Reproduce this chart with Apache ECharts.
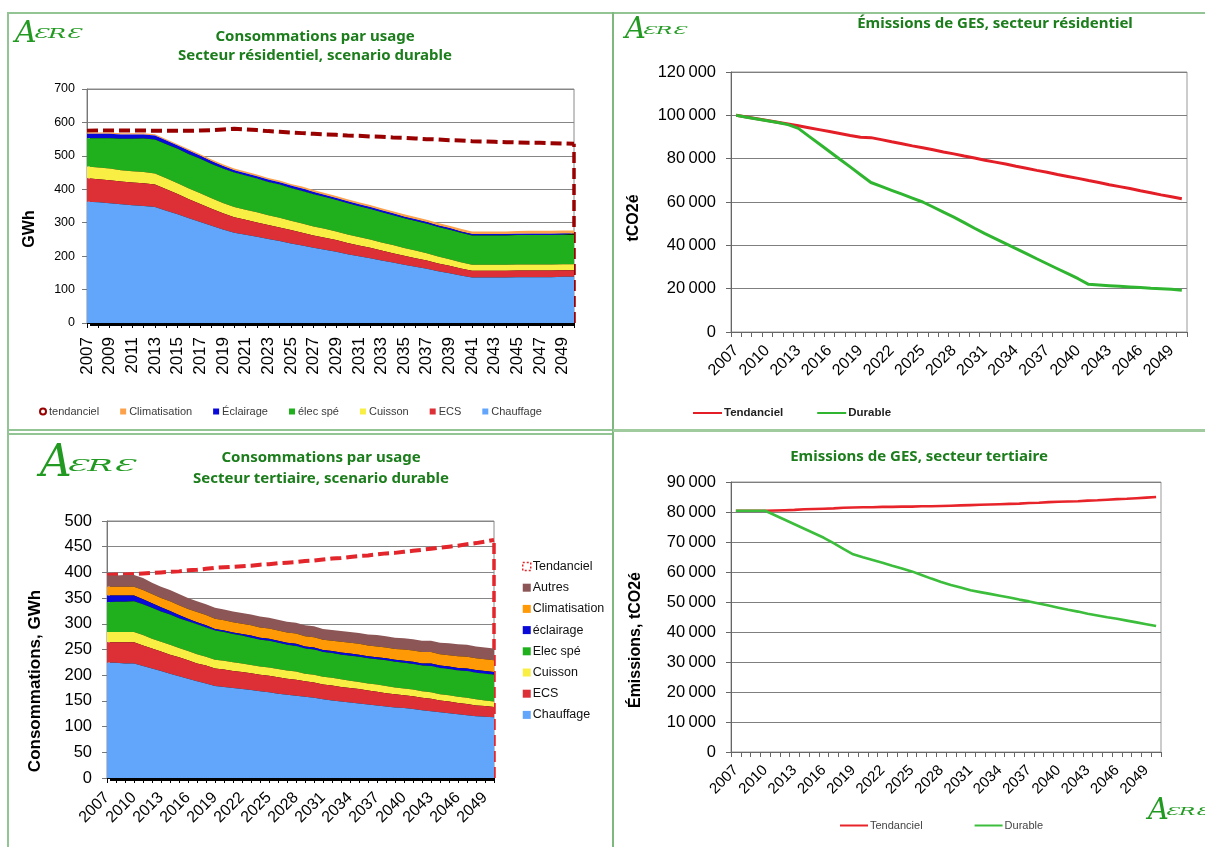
<!DOCTYPE html>
<html><head><meta charset="utf-8">
<script src="https://cdn.jsdelivr.net/npm/echarts@6/dist/echarts.min.js"></script>
<style>
html,body{margin:0;padding:0;background:#fff;}
#wrap{position:relative;width:1205px;height:847px;overflow:hidden;background:#fff;}
.p{position:absolute;}
.ln{position:absolute;background:#93c493;}
</style>
</head><body><div id="wrap">
<div id="p1" class="p" style="left:0;top:0;width:613px;height:431px"></div>
<div id="p2" class="p" style="left:613px;top:0;width:592px;height:431px"></div>
<div id="p3" class="p" style="left:0;top:431px;width:613px;height:416px"></div>
<div id="p4" class="p" style="left:613px;top:431px;width:592px;height:416px"></div>
<div class="ln" style="left:8px;top:12px;width:1197px;height:2px"></div>
<div class="ln" style="left:7px;top:12px;width:2px;height:835px"></div>
<div class="ln" style="left:612px;top:12px;width:2px;height:835px;background:#7fb87f"></div>
<div class="ln" style="left:613px;top:429px;width:592px;height:3px;background:#9fcb9f"></div>
<div class="ln" style="left:8px;top:429px;width:604px;height:1.5px"></div>
<div class="ln" style="left:8px;top:433px;width:604px;height:1.5px"></div>
</div>
<script>
// ---------- DATA ----------
const years = ['2007','2008','2009','2010','2011','2012','2013','2014','2015','2016','2017','2018','2019','2020','2021','2022','2023','2024','2025','2026','2027','2028','2029','2030','2031','2032','2033','2034','2035','2036','2037','2038','2039','2040','2041','2042','2043','2044','2045','2046','2047','2048','2049','2050'];

// Residential consumption (GWh)
const resChauffage = [363,361,358,355,352,350,347,336,325,313,302,291,280,270,264,258,251,245,238,232,225,219,213,206,200,194,187,181,174,168,162,155,149,142,136,136,136,136,137,137,137,137,138,138];
const resECS = [70,69,69,68,68,68,67,64,61,57,54,51,48,46,45,43,42,41,40,38,37,36,35,33,32,31,30,28,27,26,25,23,22,21,20,20,20,20,20,20,20,20,20,20];
const resCuisson = [35,35,35,34,34,34,33,33,32,32,32,31,31,31,30,30,29,29,28,28,27,27,26,26,25,25,24,24,23,23,22,21,20,19,18,18,18,18,18,18,18,18,18,18];
const resElec = [85,88,91,94,97,100,102,102,103,103,103,103,103,103,102,101,100,99,98,97,96,95,94,93,92,91,90,89,89,88,88,88,88,88,88,88,88,88,88,88,88,88,88,88];
const resEclairage = [13,13,13,13,13,12,12,11,10,10,9,8,8,7,7,7,7,7,7,7,7,6,6,6,6,6,6,6,5,5,5,5,5,4,4,4,4,4,4,4,4,4,4,4];
const resClim = [4,4,4,4,4,4,4,4,4,5,5,5,5,5,5,5,5,5,5,6,6,6,6,6,6,6,6,6,7,7,7,7,7,8,8,8,8,8,8,9,9,9,9,9];
const resTend = [575,576,576,576,576,576,575,575,575,575,576,577,579,581,579,577,574,572,570,568,566,564,563,561,560,558,557,555,554,552,550,549,547,546,544,543,542,541,540,539,539,538,537,536];

// Residential emissions (tCO2e)
const resEmTend = [100000,99200,98400,97600,96800,96000,95200,94300,93400,92500,91600,90700,89900,89700,88800,87800,86900,85900,85000,84100,83100,82200,81200,80300,79300,78400,77500,76500,75600,74600,73700,72700,71800,70900,69900,69000,68000,67100,66200,65200,64300,63300,62400,61500];
const resEmDur = [100000,99100,98300,97500,96700,95700,94000,90400,86900,83300,79700,76200,72600,69000,67200,65400,63600,61800,60000,57700,55300,53000,50500,47900,45400,43100,40800,38500,36200,33800,31500,29200,26900,24600,22000,21700,21400,21100,20800,20500,20200,20000,19700,19300];

// Tertiary consumption (GWh)
const terChauffage = [224,224,223,223,218,213,208,203,198,193,188,184,179,177,175,173,171,169,167,164,162,160,158,156,153,151,149,147,145,143,141,139,137,136,134,132,130,128,126,124,122,120,119,118];
const terECS = [40,40,41,41,40,39,38,37,37,36,35,35,34,34,33,33,33,32,32,32,31,31,30,30,29,29,28,28,28,27,27,26,26,25,25,24,24,23,23,22,22,21,21,20];
const terCuisson = [20,20,20,20,20,19,19,19,18,18,18,17,17,17,17,17,16,16,16,16,16,16,15,15,15,15,15,14,14,14,14,14,13,13,13,13,13,12,12,12,12,12,11,11];
const terElec = [58,59,59,60,60,60,59,59,58,58,58,57,57,56,55,54,53,52,52,51,50,50,49,49,48,48,48,49,49,49,49,50,50,50,50,50,51,51,51,51,52,52,52,52];
const terEclairage = [13,12,12,11,10,9,8,7,6,5,4,4,3,3,3,3,4,4,4,4,4,4,4,4,4,4,4,4,4,4,4,4,4,4,4,4,5,5,5,5,5,5,5,5];
const terClim = [17,17,17,17,18,18,18,19,19,19,20,20,20,20,20,20,20,20,20,20,20,20,20,20,20,20,21,21,21,21,21,21,21,22,22,22,22,22,22,23,23,23,23,23];
const terAutres = [22,22,23,23,23,22,22,22,22,21,21,21,21,21,21,21,21,21,21,21,21,21,21,21,21,21,21,21,21,21,22,22,22,22,22,22,22,22,23,23,23,23,23,23];
const terTend = [395,396,396,397,398,399,400,401,402,404,405,407,409,410,411,412,413,415,416,418,419,420,422,423,425,427,428,430,432,433,435,437,438,440,442,444,446,448,450,452,455,457,460,463];

// Tertiary emissions (tCO2e)
const terEmTend = [80400,80400,80400,80400,80500,80600,80700,80900,81000,81100,81200,81400,81500,81600,81600,81700,81700,81800,81800,81900,81900,82000,82100,82200,82300,82400,82500,82600,82700,82800,83000,83100,83300,83400,83500,83600,83800,83900,84100,84300,84400,84600,84800,85000];
const terEmDur = [80400,80400,80400,80400,78900,77400,75900,74400,72900,71400,69600,67700,65900,64900,64000,63100,62100,61200,60200,59000,57800,56700,55700,54800,53900,53300,52700,52100,51500,50800,50200,49500,48800,48100,47400,46800,46100,45500,44900,44400,43800,43200,42600,42000];

// ---------- STYLE HELPERS ----------
const F = 'Liberation Sans';
const GT = '#1b7d1b';
const LOGO = '#229a22';
function fmt(v){ return String(v).replace(/\B(?=(\d{3})+(?!\d))/g, '\u2009'); }
function txt(x, y, text, font, fill, rot){
  return {type:'text', x:x, y:y, rotation:rot||0, silent:true,
    style:{text:text, font:font, fill:fill, textAlign:'center', textVerticalAlign:'middle', align:'center', verticalAlign:'middle'}};
}
function logo(x, y, s){
  return [
    {type:'text', x:x, y:y, silent:true, style:{text:'A', font:'italic ' + Math.round(30*s) + 'px "DejaVu Serif"', fill:LOGO, textAlign:'left', textVerticalAlign:'middle', align:'left', verticalAlign:'middle'}},
    {type:'text', x:x + 18*s, y:y + 1*s, scaleX:2.0, silent:true, style:{text:'ƐRƐ', font:'italic ' + Math.round(12*s) + 'px "DejaVu Serif"', fill:LOGO, textAlign:'left', textVerticalAlign:'middle', align:'left', verticalAlign:'middle'}}
  ];
}
function stackSeries(names, arrs, colors, stackId){
  return names.map(function(n, i){
    return {name:n, type:'line', stack:stackId, data:arrs[i], symbol:'none', showSymbol:false, smooth:false, z:20 - i, clip:false,
      lineStyle:{width:0, opacity:0}, itemStyle:{color:colors[i]},
      areaStyle:{color:colors[i], opacity:1, shadowColor:'#000', shadowBlur:0.5, shadowOffsetX:3, shadowOffsetY:3},
      emphasis:{disabled:true}};
  });
}
function tendSeries(name, arr, color){
  const last = arr.length - 1;
  return {name:name, type:'line', data:arr, symbol:'none', showSymbol:false, z:1,
    lineStyle:{color:color, width:4, type:[11,5]}, itemStyle:{color:color}, emphasis:{disabled:true},
    markLine:{silent:true, symbol:'none', label:{show:false}, animation:false,
      lineStyle:{color:color, width:3.5, type:[11,5]},
      data:[[{coord:[years[last], 0]}, {coord:[years[last], arr[last]]}]]}};
}

// ---------- PANEL 1 : residential consumption ----------
const c1 = echarts.init(document.getElementById('p1'));
const resNames = ['Chauffage','ECS','Cuisson','élec spé','Éclairage','Climatisation'];
const resCols = ['#62a6fb','#dc2f36','#f9ee44','#20b01e','#0a0ad8','#fda24c'];
c1.setOption({
  animation:false,
  textStyle:{fontFamily:F},
  graphic:[
    txt(315, 37, 'Consommations par usage', 'bold 15px "Noto Sans"', GT),
    txt(315, 56, 'Secteur résidentiel, scenario durable', 'bold 15px "Noto Sans"', GT),
    txt(30, 229, 'GWh', 'bold 16px "Liberation Sans"', '#000', Math.PI/2)
  ].concat(logo(15, 34, 1)),
  grid:{left:87, top:89, width:487, height:234, show:true, borderColor:'#8a8a8a', borderWidth:1, containLabel:false, outerBoundsMode:'none'},
  xAxis:{type:'category', data:years, boundaryGap:false,
    axisLine:{show:true, lineStyle:{color:'#000', width:1}},
    axisTick:{show:true, interval:0, length:5, lineStyle:{color:'#000'}},
    axisLabel:{interval:1, rotate:90, fontSize:17, color:'#000', fontFamily:F, margin:14},
    splitLine:{show:false}},
  yAxis:{type:'value', min:0, max:700, interval:100,
    axisLine:{show:true, lineStyle:{color:'#777'}},
    axisTick:{show:true, length:5, lineStyle:{color:'#777'}},
    axisLabel:{fontSize:12.5, color:'#000', fontFamily:F, margin:12},
    splitLine:{show:true, lineStyle:{color:'#868686', width:1}}},
  legend:{left:34, top:401, itemWidth:6, itemHeight:6, itemGap:21, icon:'rect',
    textStyle:{fontSize:11, color:'#3a3a3a', fontFamily:F, padding:[0,0,0,-2]},
    data:[{name:'tendanciel', icon:'emptyCircle'},'Climatisation','Éclairage','élec spé','Cuisson','ECS','Chauffage']},
  series:[tendSeries('tendanciel', resTend, '#990000')].concat(
    stackSeries(resNames, [resChauffage,resECS,resCuisson,resElec,resEclairage,resClim], resCols, 'res'))
});

// ---------- PANEL 2 : residential emissions ----------
const c2 = echarts.init(document.getElementById('p2'));
c2.setOption({
  animation:false,
  textStyle:{fontFamily:F},
  graphic:[
    txt(382, 24, 'Émissions de GES, secteur résidentiel', 'bold 15px "Noto Sans"', GT),
    txt(21, 218, 'tCO2é', 'bold 16px "Liberation Sans"', '#000', Math.PI/2)
  ].concat(logo(12, 30, 0.95)),
  grid:{left:118, top:72, width:456, height:260, show:true, borderColor:'#999', borderWidth:1, containLabel:false, outerBoundsMode:'none'},
  xAxis:{type:'category', data:years, boundaryGap:true,
    axisLine:{show:true, lineStyle:{color:'#666', width:1}},
    axisTick:{show:true, interval:0, length:5, lineStyle:{color:'#666'}},
    axisLabel:{interval:2, rotate:45, fontSize:16, color:'#000', fontFamily:F, margin:16},
    splitLine:{show:false}},
  yAxis:{type:'value', min:0, max:120000, interval:20000,
    axisLine:{show:true, lineStyle:{color:'#666'}},
    axisTick:{show:true, length:5, lineStyle:{color:'#666'}},
    axisLabel:{fontSize:16.5, color:'#000', fontFamily:F, margin:15, formatter:fmt},
    splitLine:{show:true, lineStyle:{color:'#7f7f7f', width:1}}},
  legend:{left:75, top:402, itemWidth:29, itemHeight:2, itemGap:34, icon:'rect',
    textStyle:{fontSize:11.5, fontWeight:'bold', color:'#222', fontFamily:F, padding:[0,0,0,-3]},
    data:['Tendanciel','Durable']},
  series:[
    {name:'Tendanciel', type:'line', data:resEmTend, symbol:'none', lineStyle:{color:'#e41e26', width:3}, itemStyle:{color:'#e41e26'}},
    {name:'Durable', type:'line', data:resEmDur, symbol:'none', lineStyle:{color:'#2fb52f', width:3}, itemStyle:{color:'#2fb52f'}}
  ]
});

// ---------- PANEL 3 : tertiary consumption ----------
const c3 = echarts.init(document.getElementById('p3'));
const terNames = ['Chauffage','ECS','Cuisson','Elec spé','éclairage','Climatisation','Autres'];
const terCols = ['#62a6fb','#dc2f36','#f9ee44','#20b01e','#0a0ad8','#ff9a06','#8c5656'];
c3.setOption({
  animation:false,
  textStyle:{fontFamily:F},
  graphic:[
    txt(321, 27, 'Consommations par usage', 'bold 15px "Noto Sans"', GT),
    txt(321, 48, 'Secteur tertiaire, scenario durable', 'bold 15px "Noto Sans"', GT),
    txt(35, 250, 'Consommations, GWh', 'bold 17px "Liberation Sans"', '#000', Math.PI/2)
  ].concat(logo(40, 34, 1.45)),
  grid:{left:107, top:90, width:387, height:257, show:true, borderColor:'#8a8a8a', borderWidth:1, containLabel:false, outerBoundsMode:'none'},
  xAxis:{type:'category', data:years, boundaryGap:false,
    axisLine:{show:true, lineStyle:{color:'#000', width:1}},
    axisTick:{show:true, interval:0, length:5, lineStyle:{color:'#000'}},
    axisLabel:{interval:2, rotate:45, fontSize:16, color:'#000', fontFamily:F, margin:17},
    splitLine:{show:false}},
  yAxis:{type:'value', min:0, max:500, interval:50,
    axisLine:{show:true, lineStyle:{color:'#777'}},
    axisTick:{show:true, length:5, lineStyle:{color:'#777'}},
    axisLabel:{fontSize:16.5, color:'#000', fontFamily:F, margin:15},
    splitLine:{show:true, lineStyle:{color:'#868686', width:1}}},
  legend:{orient:'vertical', left:517, top:124, itemWidth:8, itemHeight:8, itemGap:8.2, icon:'rect',
    textStyle:{fontSize:12.5, color:'#111', fontFamily:F, padding:[0,0,0,-3]},
    data:[{name:'Tendanciel', itemStyle:{color:'#fff', borderColor:'#e3262b', borderWidth:1.5, borderType:[2,2]}},
      'Autres','Climatisation','éclairage','Elec spé','Cuisson','ECS','Chauffage']},
  series:[tendSeries('Tendanciel', terTend, '#e3262b')].concat(
    stackSeries(terNames, [terChauffage,terECS,terCuisson,terElec,terEclairage,terClim,terAutres], terCols, 'ter'))
});

// ---------- PANEL 4 : tertiary emissions ----------
const c4 = echarts.init(document.getElementById('p4'));
c4.setOption({
  animation:false,
  textStyle:{fontFamily:F},
  graphic:[
    txt(306, 26, 'Emissions de GES, secteur tertiaire', 'bold 15px "Noto Sans"', GT),
    txt(23, 209, 'Émissions, tCO2é', 'bold 16px "Liberation Sans"', '#000', Math.PI/2)
  ].concat(logo(535, 380, 0.95)),
  grid:{left:118, top:51, width:430, height:270, show:true, borderColor:'#999', borderWidth:1, containLabel:false, outerBoundsMode:'none'},
  xAxis:{type:'category', data:years, boundaryGap:true,
    axisLine:{show:true, lineStyle:{color:'#666', width:1}},
    axisTick:{show:true, interval:0, length:5, lineStyle:{color:'#666'}},
    axisLabel:{interval:2, rotate:45, fontSize:15, color:'#000', fontFamily:F, margin:16},
    splitLine:{show:false}},
  yAxis:{type:'value', min:0, max:90000, interval:10000,
    axisLine:{show:true, lineStyle:{color:'#666'}},
    axisTick:{show:true, length:5, lineStyle:{color:'#666'}},
    axisLabel:{fontSize:16.5, color:'#000', fontFamily:F, margin:15, formatter:fmt},
    splitLine:{show:true, lineStyle:{color:'#7f7f7f', width:1}}},
  legend:{left:222, top:384, itemWidth:28, itemHeight:2, itemGap:52, icon:'rect',
    textStyle:{fontSize:11, color:'#444', fontFamily:F, padding:[0,0,0,-3]},
    data:['Tendanciel','Durable']},
  series:[
    {name:'Tendanciel', type:'line', data:terEmTend, symbol:'none', lineStyle:{color:'#e8242b', width:2.6}, itemStyle:{color:'#e8242b'}},
    {name:'Durable', type:'line', data:terEmDur, symbol:'none', lineStyle:{color:'#3cbd3c', width:2.6}, itemStyle:{color:'#3cbd3c'}}
  ]
});
</script>
</body></html>
